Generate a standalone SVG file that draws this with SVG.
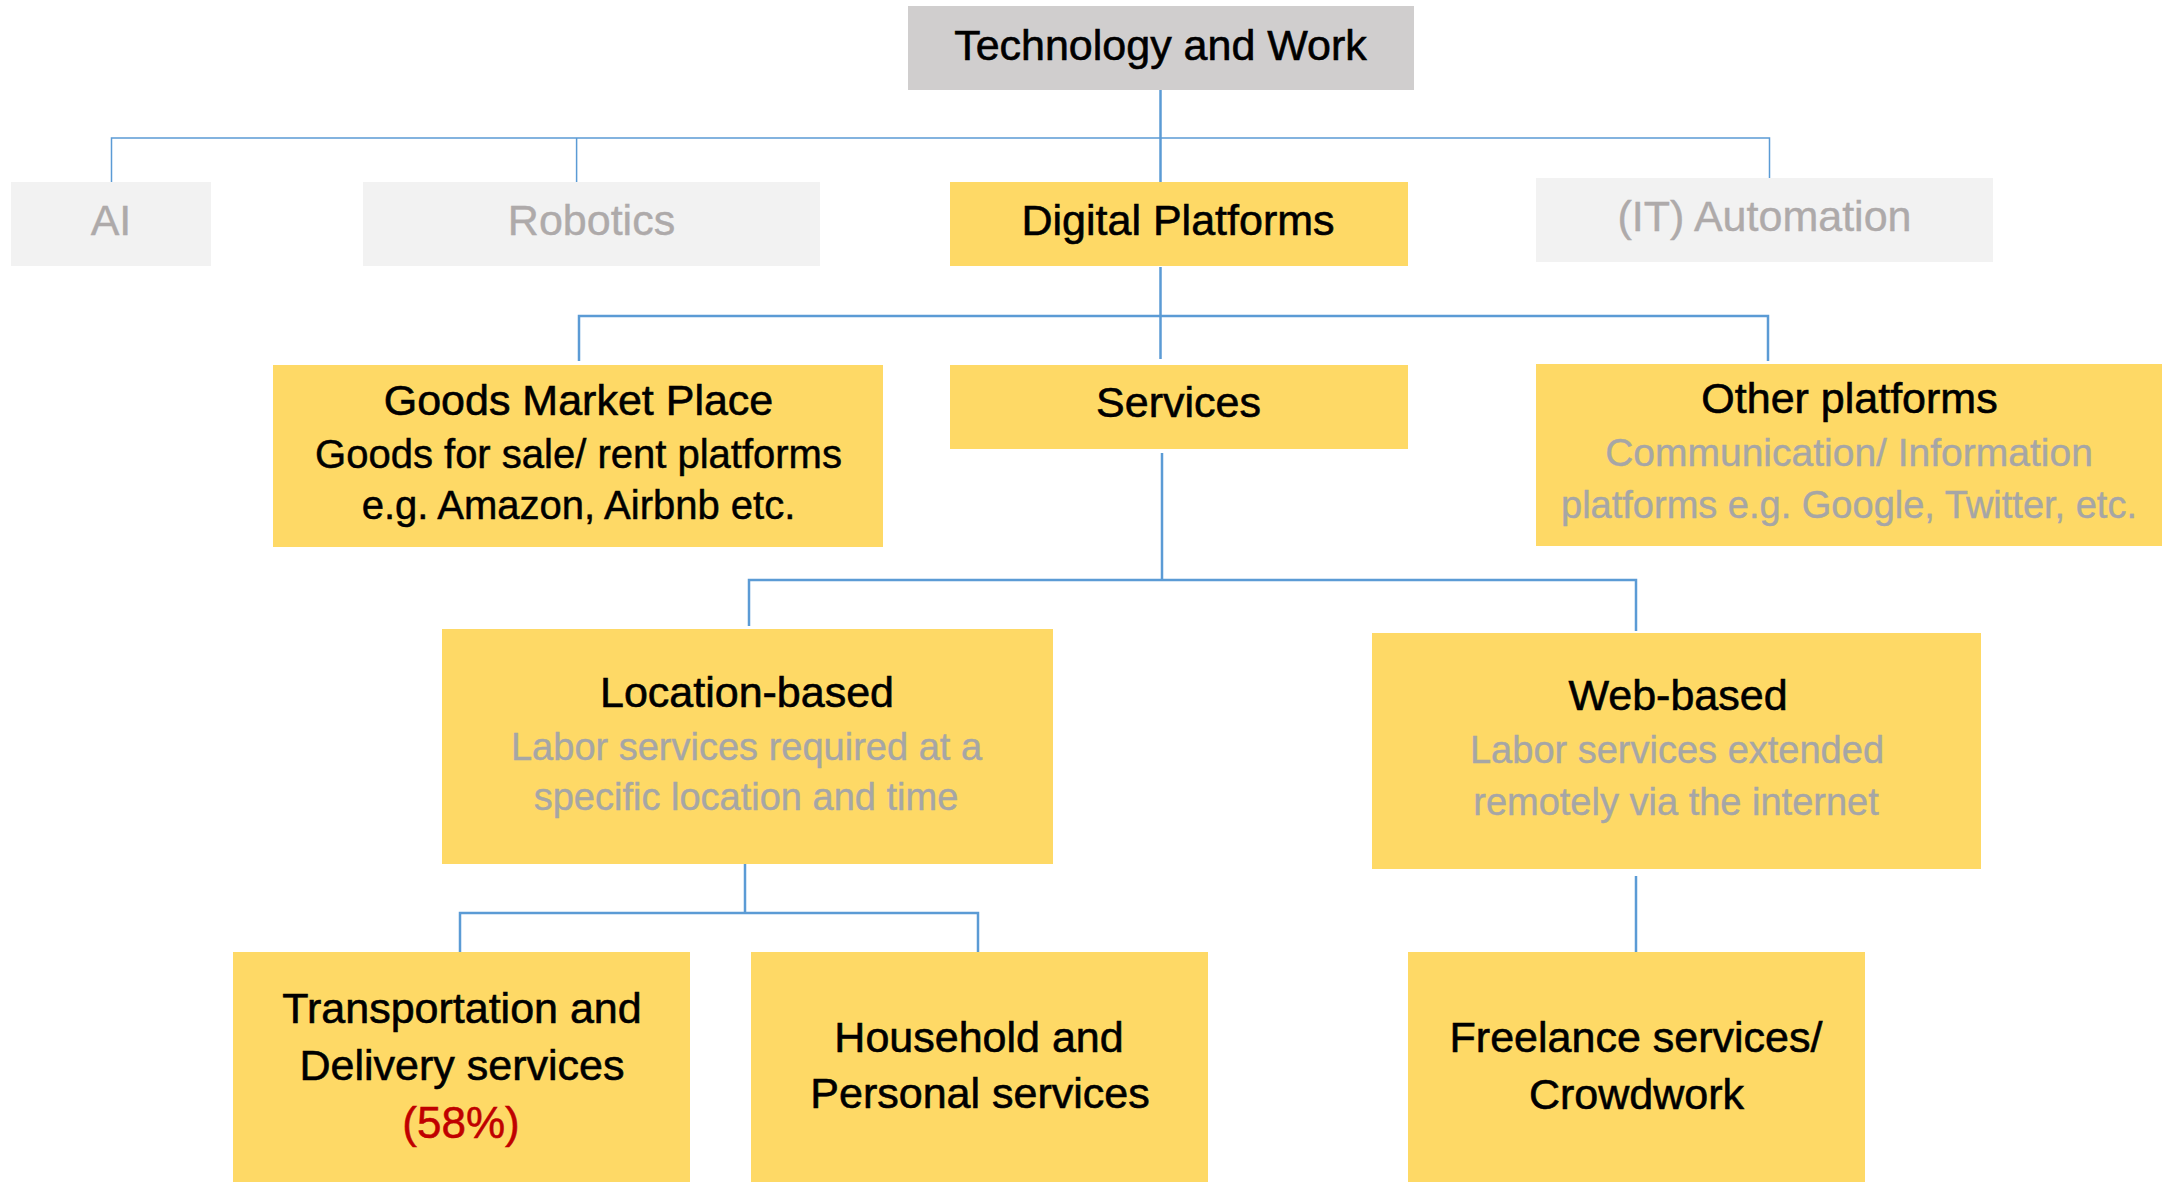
<svg xmlns="http://www.w3.org/2000/svg" width="2169" height="1182" viewBox="0 0 2169 1182">
<style>
.box{fill:#FED966}
.gbox{fill:#F2F2F2}
.tbox{fill:#D0CECE}
text{font-family:'Liberation Sans',Arial,sans-serif;text-anchor:middle}
.t{font-size:43px;fill:#000;stroke:#000;stroke-width:0.6}
.gt{font-size:43px;fill:#AEAAAA;stroke:#AEAAAA;stroke-width:0.4}
.s{font-size:38px;fill:#A6A6A6;stroke:#A6A6A6;stroke-width:0.4}
.sb{font-size:40px;fill:#000;stroke:#000;stroke-width:0.5}
.red{font-size:44px;fill:#C00000;stroke:#C00000;stroke-width:0.5}
.thin{stroke:#5B9BD5;stroke-width:1.5;fill:none}
.thick{stroke:#5B9BD5;stroke-width:2.5;fill:none}
</style>
<rect width="2169" height="1182" fill="#fff"/>
<g id="connectors">
<path class="thin" d="M111.5 182V138H1769.5V182M576.6 138V183"/>
<path class="thick" d="M1160.5 90V182"/>
<path class="thick" d="M1160.5 267V359M579 361V316H1768V361"/>
<path class="thick" d="M1162 453V580M749 626V580H1636V631"/>
<path class="thick" d="M745 864V913M460 957V913H978V954"/>
<path class="thick" d="M1636 876V952"/>
</g>
<g id="n-tech"><rect class="tbox" x="908" y="6" width="506" height="84"/><text class="t" x="1160.5" y="60">Technology and Work</text></g>
<g id="n-ai"><rect class="gbox" x="11" y="182" width="200" height="84"/><text class="gt" x="111" y="235">AI</text></g>
<g id="n-robotics"><rect class="gbox" x="363" y="182" width="457" height="84"/><text class="gt" x="591.5" y="235">Robotics</text></g>
<g id="n-digital"><rect class="box" x="950" y="182" width="458" height="84"/><text class="t" x="1178" y="235">Digital Platforms</text></g>
<g id="n-it"><rect class="gbox" x="1536" y="178" width="457" height="84"/><text class="gt" x="1764.5" y="231">(IT) Automation</text></g>
<g id="n-goods"><rect class="box" x="273" y="365" width="610" height="182"/>
<text class="t" x="578.5" y="415">Goods Market Place</text>
<text class="sb" x="578.5" y="468">Goods for sale/ rent platforms</text>
<text class="sb" x="578.5" y="519">e.g. Amazon, Airbnb etc.</text></g>
<g id="n-services"><rect class="box" x="950" y="365" width="458" height="84"/><text class="t" x="1178.5" y="417">Services</text></g>
<g id="n-other"><rect class="box" x="1536" y="364" width="626" height="182"/>
<text class="t" x="1849.5" y="413">Other platforms</text>
<text class="s" x="1849" y="466" style="font-size:39px">Communication/ Information</text>
<text class="s" x="1849" y="518" style="font-size:38px">platforms e.g. Google, Twitter, etc.</text></g>
<g id="n-location"><rect class="box" x="442" y="629" width="611" height="235"/>
<text class="t" x="747" y="707">Location-based</text>
<text class="s" x="746.5" y="760">Labor services required at a</text>
<text class="s" x="746" y="810">specific location and time</text></g>
<g id="n-web"><rect class="box" x="1372" y="633" width="609" height="236"/>
<text class="t" x="1678" y="710">Web-based</text>
<text class="s" x="1677" y="763">Labor services extended</text>
<text class="s" x="1676" y="815">remotely via the internet</text></g>
<g id="n-transport"><rect class="box" x="233" y="952" width="457" height="230"/>
<text class="t" x="462" y="1023">Transportation and</text>
<text class="t" x="462" y="1080">Delivery services</text>
<text class="red" x="461" y="1138">(58%)</text></g>
<g id="n-household"><rect class="box" x="751" y="952" width="457" height="230"/>
<text class="t" x="979" y="1052">Household and</text>
<text class="t" x="980" y="1108">Personal services</text></g>
<g id="n-freelance"><rect class="box" x="1408" y="952" width="457" height="230"/>
<text class="t" x="1636" y="1052">Freelance services/</text>
<text class="t" x="1636.5" y="1109">Crowdwork</text></g>
</svg>
